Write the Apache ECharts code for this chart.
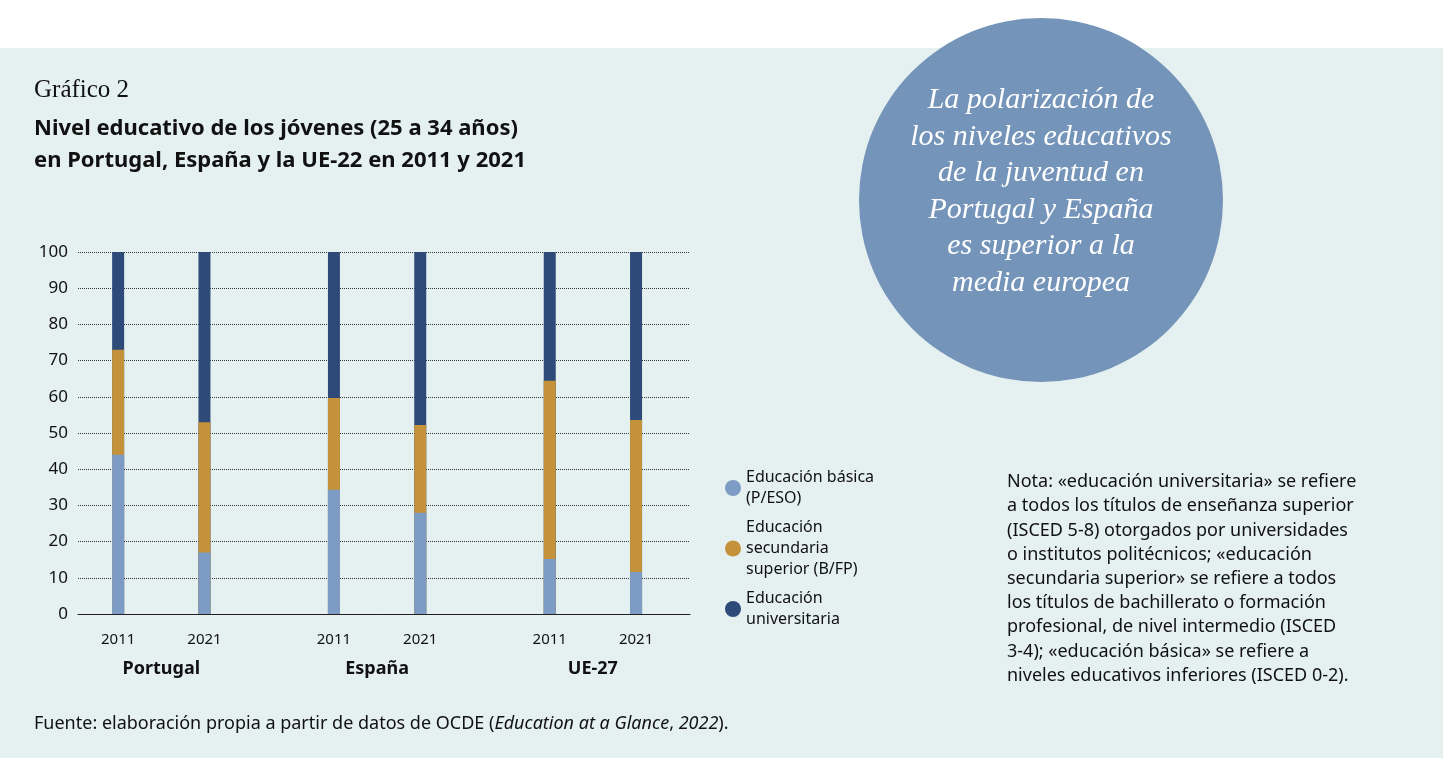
<!DOCTYPE html><html><head><meta charset="utf-8">
<script src="https://cdn.jsdelivr.net/npm/echarts@6/dist/echarts.min.js"></script>
<style>html,body{margin:0;padding:0;background:#fff}#c{width:1443px;height:758px}</style></head><body><div id="c"></div>
<script>
const years=['2011','2021','2011','2021','2011','2021'];
const slots=[0,2,5,7,10,12];
const groups=['Portugal','España','UE-27'];
const groupSlots=[1,6,11];
const basica=[44,17,34.3,28,15.2,11.6];
const secundaria=[29,36,25.4,24.2,49.2,42];
const universitaria=[27,47,40.3,47.8,35.6,46.4];
const seriesNames=['Educación básica\n(P/ESO)','Educación\nsecundaria\nsuperior (B/FP)','Educación\nuniversitaria'];
const colors=['#7c9cc5','#c4923a','#2d4a78'];
const ch=echarts.init(document.getElementById('c'));
// manual stacking: draw cumulative totals, later series drawn on top
const cum2=basica.map((v,k)=>v+secundaria[k]);
const cum3=cum2.map((v,k)=>v+universitaria[k]);
const mk=(name,vals,i,z)=>({name,type:'bar',barWidth:12,barGap:'-100%',z,itemStyle:{color:colors[i]},data:vals.map((v,k)=>[slots[k],v])});
ch.setOption({
 animation:false,
 graphic:[
  {type:'rect',shape:{x:0,y:48,width:1443,height:710},style:{fill:'#e5f0f1'},z:-10},
  {type:'circle',shape:{cx:1041,cy:200,r:182},style:{fill:'#7494b9'},z:-5},
  {type:'text',z:10,style:{x:1041,y:82,text:'La polarización de\nlos niveles educativos\nde la juventud en\nPortugal y España\nes superior a la\nmedia europea',align:'center',fill:'#fff',font:'italic 30px "Liberation Serif", serif',lineHeight:36.5}},
  {type:'text',style:{x:34,y:78,text:'Gráfico 2',fill:'#111',font:'25px "Liberation Serif", serif'}},
  {type:'text',style:{x:34,y:113,text:'Nivel educativo de los jóvenes (25 a 34 años)\nen Portugal, España y la UE-22 en 2011 y 2021',fill:'#111',font:'bold 22px "Noto Sans", sans-serif',lineHeight:32}},
  {type:'text',style:{x:1007,y:470,text:'Nota: «educación universitaria» se refiere\na todos los títulos de enseñanza superior\n(ISCED 5-8) otorgados por universidades\no institutos politécnicos; «educación\nsecundaria superior» se refiere a todos\nlos títulos de bachillerato o formación\nprofesional, de nivel intermedio (ISCED\n3-4); «educación básica» se refiere a\nniveles educativos inferiores (ISCED 0-2).',fill:'#111',font:'18px "Noto Sans", sans-serif',lineHeight:24.2}},
  {type:'text',style:{x:34,y:715,text:'{a|Fuente: elaboración propia a partir de datos de OCDE (}{b|Education at a Glance}{a|, }{b|2022}{a|).}',rich:{a:{fill:'#111',font:'18px "Noto Sans", sans-serif'},b:{fill:'#111',font:'italic 18px "Noto Sans", sans-serif'}}}}
 ],
 legend:{orient:'vertical',left:720,top:462,icon:'circle',itemWidth:16,itemHeight:16,itemGap:8,textStyle:{fontSize:16,color:'#111',fontFamily:'Noto Sans',lineHeight:21},data:seriesNames},
 grid:{left:78,right:1443-690,top:252,bottom:758-614},
 xAxis:[
  {type:'value',min:-0.93,max:13.25,splitLine:{show:false},axisLine:{show:true,onZero:false,lineStyle:{color:'#222'}},axisTick:{show:false},
   axisLabel:{customValues:slots,formatter:v=>years[slots.indexOf(Math.round(v))]||'',fontSize:15,color:'#111',margin:18,fontFamily:'Noto Sans'}},
  {type:'value',position:'bottom',min:-0.93,max:13.25,splitLine:{show:false},axisLine:{show:false},axisTick:{show:false},
   axisLabel:{customValues:groupSlots,formatter:v=>groups[groupSlots.indexOf(Math.round(v))]||'',fontSize:18,fontWeight:'bold',color:'#111',margin:46,fontFamily:'Noto Sans'}}
 ],
 yAxis:{type:'value',min:0,max:100,interval:10,axisLine:{show:false},axisTick:{show:false},
  axisLabel:{fontSize:17,color:'#111',margin:10,fontFamily:'Noto Sans'},splitLine:{lineStyle:{color:'#333',type:'dotted'}}},
 series:[mk(seriesNames[2],cum3,2,2),mk(seriesNames[1],cum2,1,3),mk(seriesNames[0],basica,0,4)]
});
</script></body></html>
